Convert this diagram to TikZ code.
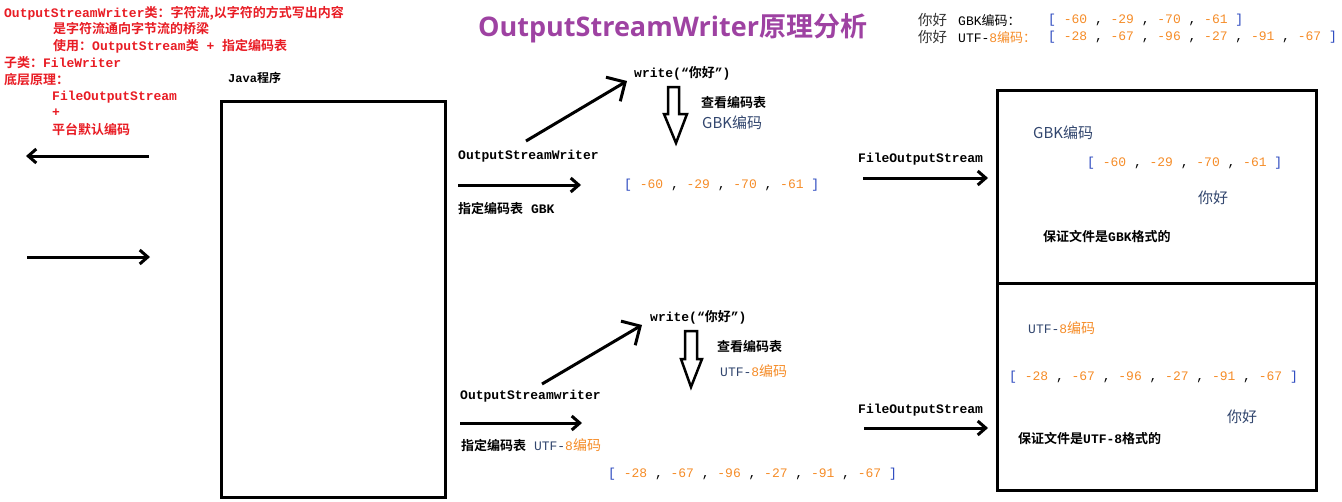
\documentclass[tikz,border=0pt]{standalone}
\usepackage{fontspec}
\setmonofont{Liberation Mono}
\newfontfamily\cjk{Noto Sans CJK SC}[BoldFont={Noto Sans CJK SC Bold}]
\newfontfamily\titlefont{Open Sans}
\usetikzlibrary{arrows.meta}
\definecolor{redt}{RGB}{232,28,36}
\definecolor{purp}{RGB}{158,66,162}
\definecolor{org}{RGB}{245,140,40}
\definecolor{brk}{RGB}{40,70,190}
\definecolor{gbl}{RGB}{50,70,110}
\newcommand\C[1]{{\cjk #1}}
\newcommand\LB{\textcolor{brk}{[}}
\newcommand\RB{\textcolor{brk}{]}}
\newcommand\N[1]{\textcolor{org}{#1}}
\newcommand\gbknums{\LB\ \N{-60} , \N{-29} , \N{-70} , \N{-61} \RB}
\newcommand\utfnums{\LB\ \N{-28} , \N{-67} , \N{-96} , \N{-27} , \N{-91} , \N{-67} \RB}
\tikzset{
  lbl/.style={anchor=west, inner sep=0pt, font=\fontsize{13}{15}\selectfont\ttfamily\bfseries},
  reg/.style={anchor=west, inner sep=0pt, font=\fontsize{13}{15}\selectfont\ttfamily},
  sans/.style={anchor=west, inner sep=0pt, font=\fontsize{15}{17}\selectfont\cjk, text=gbl},
  redlbl/.style={lbl, text=redt},
  frame/.style={line width=3pt, line join=miter},
  harrow/.style={line width=3pt, -{Straight Barb[length=8pt,width=14pt]}},
  darrow/.style={line width=3pt, -{Straight Barb[length=14pt,width=28pt]}},
  hollow/.style={line width=2.5pt, line join=miter},
}
\begin{document}
\begin{tikzpicture}[x=1pt,y=-1pt]
\useasboundingbox (0,0) rectangle (1342,501);
% red description
\node (r1) [redlbl] at (4,13) {OutputStreamWriter\C{类：字符流,以字符的方式写出内容}};
\node (r2) [redlbl] at (53,29) {\C{是字符流通向字节流的桥梁}};
\node (r3) [redlbl] at (53,46) {\C{使用：}OutputStream\C{类} + \C{指定编码表}};
\node (r4) [redlbl] at (4,63) {\C{子类：}FileWriter};
\node (r5) [redlbl] at (4,80) {\C{底层原理：}};
\node (r6) [redlbl] at (52,97) {FileOutputStream};
\node (r7) [redlbl] at (52,113) {+};
\node (r8) [redlbl] at (52,129) {\C{平台默认编码}};
% title
\node (title) [anchor=west, inner sep=0pt, text=purp, font=\fontsize{27}{30}\selectfont\titlefont\bfseries] at (478,28) {OutputStreamWriter\C{原理分析}};
% top right
\node (t1a) [anchor=west, inner sep=0pt, font=\fontsize{14.5}{16}\selectfont\cjk, text=black!80] at (918,20) {你好};
\node (t1b) [reg] at (958,20) {GBK\C{编码：}};
\node (t1c) [reg] at (1048,20) {\gbknums};
\node (t2a) [anchor=west, inner sep=0pt, font=\fontsize{14.5}{16}\selectfont\cjk, text=black!80] at (918,37) {你好};
\node (t2b) [reg] at (958,37) {UTF-\textcolor{org}{8\C{编码：}}};
\node (t2c) [reg] at (1048,37) {\utfnums};
% java box
\node (java) [anchor=west, inner sep=0pt, font=\fontsize{12}{14}\selectfont\ttfamily\bfseries] at (228,78) {Java\C{程序}};
\draw[frame] (221,101) rectangle (445,497);
% left arrows
\coordinate (la1s) at (149,156); \coordinate (la1e) at (26,156);
\coordinate (la2s) at (27,257); \coordinate (la2e) at (150,257);
\draw[harrow] (la1s) -- (la1e);
\draw[harrow] (la2s) -- (la2e);
% upper flow
\node (w1) [lbl] at (634,73) {write(“\C{你好}”)};
\coordinate (d1s) at (526,141); \coordinate (d1e) at (627,81);
\draw[darrow] (d1s) -- (d1e);
\draw[hollow] (668,87) -- (679,87) -- (679,114) -- (687,114) -- (676,143) -- (664,114) -- (668,114) -- cycle;
\node (ck1) [lbl] at (701,103) {\C{查看编码表}};
\node (enc1) [sans] at (702,123) {GBK编码};
\node (osw1) [lbl] at (458,156) {OutputStreamWriter};
\coordinate (h1s) at (458,185); \coordinate (h1e) at (581,185);
\draw[harrow] (h1s) -- (h1e);
\node (spec1) [lbl] at (458,208) {\C{指定编码表} GBK};
\node (nums1) [reg] at (624,185) {\gbknums};
\node (fos1) [lbl] at (858,159) {FileOutputStream};
\coordinate (f1s) at (863,178); \coordinate (f1e) at (988,178);
\draw[harrow] (f1s) -- (f1e);
% lower flow
\node (w2) [lbl] at (650,317) {write(“\C{你好}”)};
\coordinate (d2s) at (542,384); \coordinate (d2e) at (642,325);
\draw[darrow] (d2s) -- (d2e);
\draw[hollow] (685,331) -- (697,331) -- (697,359) -- (702,359) -- (691,387) -- (681,359) -- (685,359) -- cycle;
\node (ck2) [lbl] at (717,347) {\C{查看编码表}};
\node (enc2) [reg, text=gbl] at (720,371) {UTF-\textcolor{org}{8{\fontsize{14}{16}\selectfont\cjk 编码}}};
\node (osw2) [lbl] at (460,396) {OutputStreamwriter};
\coordinate (h2s) at (460,423); \coordinate (h2e) at (582,423);
\draw[harrow] (h2s) -- (h2e);
\node (spec2) [lbl] at (461,445) {\C{指定编码表} \mdseries\textcolor{gbl}{UTF-}\textcolor{org}{8{\fontsize{14}{16}\selectfont\cjk 编码}}};
\node (nums2) [reg] at (608,474) {\utfnums};
\node (fos2) [lbl] at (858,410) {FileOutputStream};
\coordinate (f2s) at (864,428); \coordinate (f2e) at (988,428);
\draw[harrow] (f2s) -- (f2e);
% right boxes
\draw[frame] (997,90) rectangle (1316,490);
\draw[frame] (997,283) -- (1316,283);
\node (g1) [sans] at (1033,133) {GBK编码};
\node (g2) [reg] at (1087,163) {\gbknums};
\node (g3) [sans] at (1198,198) {你好};
\node (g4) [lbl] at (1043,236) {\C{保证文件是}GBK\C{格式的}};
\node (u1) [reg, text=gbl] at (1028,328) {UTF-\textcolor{org}{8{\fontsize{14}{16}\selectfont\cjk 编码}}};
\node (u2) [reg] at (1009,377) {\utfnums};
\node (u3) [sans] at (1227,417) {你好};
\node (u4) [lbl] at (1018,438) {\C{保证文件是}UTF-8\C{格式的}};
\end{tikzpicture}
\end{document}
